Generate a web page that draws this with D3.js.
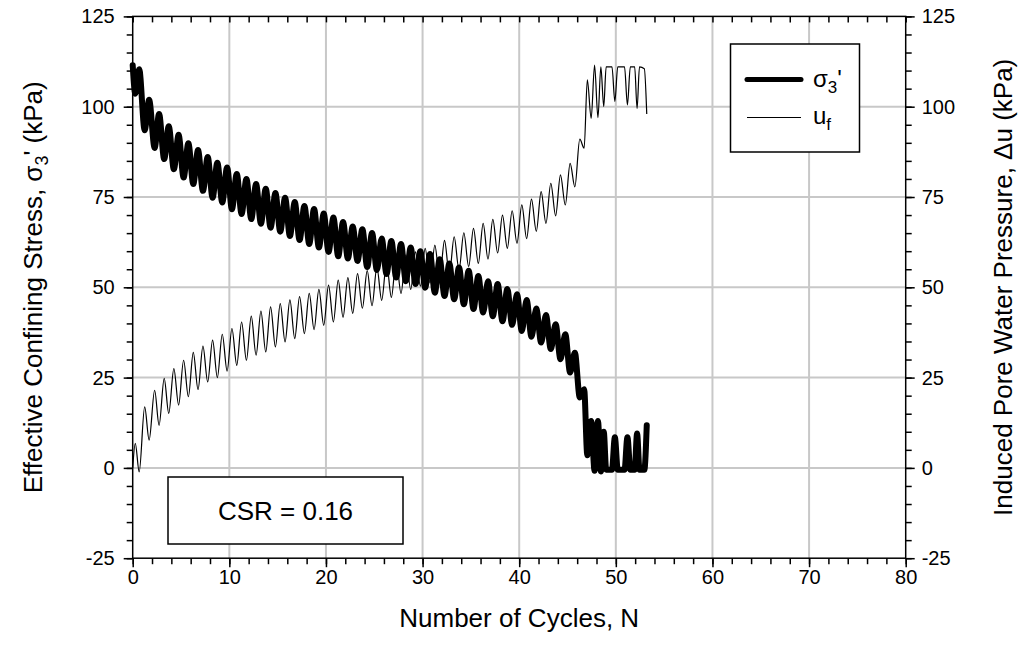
<!DOCTYPE html>
<html>
<head>
<meta charset="utf-8">
<script src="https://cdn.jsdelivr.net/npm/d3@7"></script>
<style>
  html, body { margin: 0; padding: 0; background: #fff; }
  svg { display: block; font-family: "Liberation Sans", Arial, sans-serif; }
</style>
</head>
<body>
<svg id="chart" width="1024" height="662"></svg>
<script>
// Turning points (peaks / troughs) of each loading cycle, number of cycles N
const turnN = [
  0, 0.27, 0.67,
  1.24, 1.70, 2.27, 2.73, 3.26, 3.73, 4.26, 4.75, 5.27, 5.76, 6.27, 6.76, 7.27, 7.76, 8.27, 8.76, 9.27, 9.77,
  10.27, 10.77, 11.27, 11.77, 12.27, 12.77, 13.27, 13.77, 14.27, 14.77, 15.27, 15.77, 16.27, 16.77, 17.27, 17.77, 18.27, 18.77, 19.27, 19.77,
  20.27, 20.77, 21.27, 21.77, 22.27, 22.77, 23.27, 23.77, 24.27, 24.77, 25.27, 25.77, 26.27, 26.77, 27.27, 27.77, 28.27, 28.77, 29.27, 29.77,
  30.27, 30.77, 31.27, 31.77, 32.27, 32.77, 33.27, 33.77, 34.27, 34.77, 35.27, 35.77, 36.27, 36.77, 37.27, 37.77, 38.27, 38.77, 39.27, 39.77,
  40.27, 40.77, 41.27, 41.77, 42.27, 42.77, 43.27, 43.77, 44.27, 44.77, 45.27, 45.76, 46.27, 46.72, 47.05, 47.45, 47.8, 48.15, 48.45, 48.75,
  49.0, 49.6, 49.9, 50.2, 50.9, 51.2, 51.5, 51.95, 52.2, 52.45, 52.95, 53.2
];

// Effective confining stress sigma3' (kPa) at each turning point
const sigmaTurns = [
  111.5, 103.6, 110.4,
  93.5, 101.9, 88.6, 98.0, 85.5, 94.6, 82.7, 92.2, 80.4, 89.9, 78.6, 88.0, 76.7, 86.1, 74.8, 84.5, 73.5, 83.2,
  71.6, 81.4, 70.3, 80.0, 68.9, 78.6, 67.6, 77.3, 66.5, 76.1, 65.4, 74.8, 64.2, 73.6, 63.1, 72.5, 62.0, 71.7, 61.0, 70.4,
  59.8, 69.3, 58.6, 68.1, 58.0, 66.8, 57.3, 66.1, 55.6, 65.0, 54.8, 63.5, 53.7, 62.8, 52.7, 62.0, 51.7, 61.0, 50.9, 60.0,
  49.9, 59.2, 48.5, 57.8, 47.6, 56.6, 46.7, 55.5, 45.3, 54.6, 44.0, 53.1, 43.0, 51.7, 42.0, 50.9, 40.6, 49.5, 39.6, 48.1,
  37.9, 46.5, 36.3, 44.1, 34.7, 42.3, 32.9, 39.8, 30.1, 37.0, 26.4, 31.9, 19.5, 21.8, 3.5, 13.0, -0.8, 13.0, -1.0, 10.0,
  -0.5, -0.5, 8.5, -0.5, -0.5, 8.5, -0.5, -0.5, 9.5, -0.5, -0.5, 11.8
];

// Induced pore water pressure u_f (kPa) at each turning point
const poreTurns = [
  0.0, 6.8, -1.1,
  16.9, 7.7, 21.5, 11.8, 24.8, 15.1, 27.5, 17.4, 29.8, 19.7, 32.0, 21.7, 33.7, 23.8, 35.4, 25.0, 37.0, 26.8,
  38.6, 28.4, 40.4, 29.8, 42.0, 31.2, 43.4, 32.1, 44.6, 33.5, 45.5, 34.9, 46.5, 35.8, 47.4, 37.2, 48.3, 38.3, 49.4, 39.5,
  50.6, 40.4, 52.0, 41.7, 52.7, 42.8, 53.8, 44.2, 54.6, 44.9, 55.5, 46.4, 56.8, 47.2, 57.7, 48.3, 58.9, 49.4, 59.8, 50.3,
  60.8, 51.2, 61.7, 52.4, 63.0, 53.6, 64.0, 54.8, 65.1, 55.7, 66.3, 56.6, 67.7, 57.8, 68.8, 59.5, 70.0, 60.8, 71.2, 62.2,
  72.8, 63.5, 74.4, 65.5, 76.5, 67.7, 78.8, 69.8, 81.1, 72.8, 84.3, 77.8, 91.0, 88.5, 107.4, 96.8, 111.5, 97.0, 111.0, 100.0,
  111.0, 111.0, 101.5, 111.0, 111.0, 100.5, 111.0, 111.0, 99.5, 111.0, 110.5, 98.0
];

// Axis tick values
const xTicks = [0, 10, 20, 30, 40, 50, 60, 70, 80];
const yTicks = [-25, 0, 25, 50, 75, 100, 125];
const csrLabel = "CSR = 0.16";

const svg = d3.select("#chart");
const font = '"Liberation Sans", Arial, sans-serif';

const x = d3.scaleLinear().domain([0, 80]).range([132.7, 905.7]);
const y = d3.scaleLinear().domain([-25, 125]).range([558.2, 16.4]);

const xMinor = d3.range(0, 80.001, 2);
const yMinor = d3.range(-25, 125.001, 5);
const plain = d => String(d);   // hyphen-minus for negative labels

// Gridlines
const grid = svg.append("g").attr("stroke", "#c8c8c8").attr("stroke-width", 2);
grid.selectAll("line.gx").data(xTicks.slice(1, -1)).join("line")
  .attr("x1", d => x(d)).attr("x2", d => x(d))
  .attr("y1", y(125)).attr("y2", y(-25));
grid.selectAll("line.gy").data(yTicks.slice(1, -1)).join("line")
  .attr("x1", x(0)).attr("x2", x(80))
  .attr("y1", d => y(d)).attr("y2", d => y(d));

function styleAxis(g) {
  g.select(".domain").remove();
  g.selectAll(".tick line").attr("stroke", "#000").attr("stroke-width", 1.5);
  g.selectAll("text").attr("fill", "#000").attr("font-family", font).attr("font-size", 20);
}

// Bottom axis: ticks outward
svg.append("g").attr("transform", `translate(0,${y(-25)})`)
  .call(d3.axisBottom(x).tickValues(xMinor).tickSize(6).tickFormat(""))
  .call(styleAxis);
svg.append("g").attr("transform", `translate(0,${y(-25)})`)
  .call(d3.axisBottom(x).tickValues(xTicks).tickSize(9).tickPadding(3).tickFormat(plain))
  .call(styleAxis);

// Top axis: ticks inward
svg.append("g").attr("transform", `translate(0,${y(125)})`)
  .call(d3.axisBottom(x).tickValues(xMinor).tickSize(6).tickFormat(""))
  .call(styleAxis);

// Left axis
svg.append("g").attr("transform", `translate(${x(0)},0)`)
  .call(d3.axisLeft(y).tickValues(yMinor).tickSize(6).tickFormat(""))
  .call(styleAxis);
svg.append("g").attr("transform", `translate(${x(0)},0)`)
  .call(d3.axisLeft(y).tickValues(yTicks).tickSize(9).tickPadding(9).tickFormat(plain))
  .call(styleAxis);

// Right axis
svg.append("g").attr("transform", `translate(${x(80)},0)`)
  .call(d3.axisRight(y).tickValues(yMinor).tickSize(6).tickFormat(""))
  .call(styleAxis);
svg.append("g").attr("transform", `translate(${x(80)},0)`)
  .call(d3.axisRight(y).tickValues(yTicks).tickSize(9).tickPadding(7).tickFormat(plain))
  .call(styleAxis);

// Frame
svg.append("rect")
  .attr("x", x(0)).attr("y", y(125))
  .attr("width", x(80) - x(0)).attr("height", y(-25) - y(125))
  .attr("fill", "none").attr("stroke", "#000").attr("stroke-width", 1.5);

// Data lines
const sigmaPts = turnN.map((n, i) => [n, sigmaTurns[i]]);
const porePts = turnN.map((n, i) => [n, poreTurns[i]]);
const line = d3.line().x(d => x(d[0])).y(d => y(d[1])).curve(d3.curveMonotoneX);

svg.append("path").datum(sigmaPts)
  .attr("d", line).attr("fill", "none").attr("stroke", "#000")
  .attr("stroke-width", 6).attr("stroke-linejoin", "round").attr("stroke-linecap", "round");
svg.append("path").datum(porePts)
  .attr("d", line).attr("fill", "none").attr("stroke", "#000")
  .attr("stroke-width", 1.2).attr("stroke-linejoin", "round");

// Legend
const leg = svg.append("g");
leg.append("rect").attr("x", 730.5).attr("y", 44).attr("width", 129).attr("height", 108)
  .attr("fill", "#fff").attr("stroke", "#000").attr("stroke-width", 1.5);
leg.append("line").attr("x1", 747).attr("x2", 801).attr("y1", 79.5).attr("y2", 79.5)
  .attr("stroke", "#000").attr("stroke-width", 5).attr("stroke-linecap", "round");
leg.append("line").attr("x1", 747).attr("x2", 801).attr("y1", 117.5).attr("y2", 117.5)
  .attr("stroke", "#000").attr("stroke-width", 1);
const t1 = leg.append("text").attr("x", 813).attr("y", 87).attr("font-size", 24).attr("font-family", font);
t1.append("tspan").text("σ");
t1.append("tspan").attr("dy", 6).attr("font-size", 17).text("3");
t1.append("tspan").attr("dy", -6).text("'");
const t2 = leg.append("text").attr("x", 813).attr("y", 124).attr("font-size", 24).attr("font-family", font);
t2.append("tspan").text("u");
t2.append("tspan").attr("dy", 6).attr("font-size", 17).text("f");

// CSR annotation box
svg.append("rect").attr("x", 168).attr("y", 477).attr("width", 235).attr("height", 67)
  .attr("fill", "#fff").attr("stroke", "#000").attr("stroke-width", 1.5);
svg.append("text").attr("x", 285.5).attr("y", 520).attr("text-anchor", "middle")
  .attr("font-size", 26).attr("font-family", font).text(csrLabel);

// Axis titles
svg.append("text").attr("x", (x(0) + x(80)) / 2).attr("y", 627)
  .attr("text-anchor", "middle").attr("font-size", 26).attr("font-family", font)
  .text("Number of Cycles, N");

const lt = svg.append("text")
  .attr("transform", `translate(42,${(y(125) + y(-25)) / 2}) rotate(-90)`)
  .attr("text-anchor", "middle").attr("font-size", 26).attr("font-family", font);
lt.append("tspan").text("Effective Confining Stress, σ");
lt.append("tspan").attr("dy", 6).attr("font-size", 18).text("3");
lt.append("tspan").attr("dy", -6).text("' (kPa)");

svg.append("text")
  .attr("transform", `translate(1012,${(y(125) + y(-25)) / 2}) rotate(-90)`)
  .attr("text-anchor", "middle").attr("font-size", 26).attr("font-family", font)
  .text("Induced Pore Water Pressure, Δu (kPa)");
</script>
</body>
</html>
